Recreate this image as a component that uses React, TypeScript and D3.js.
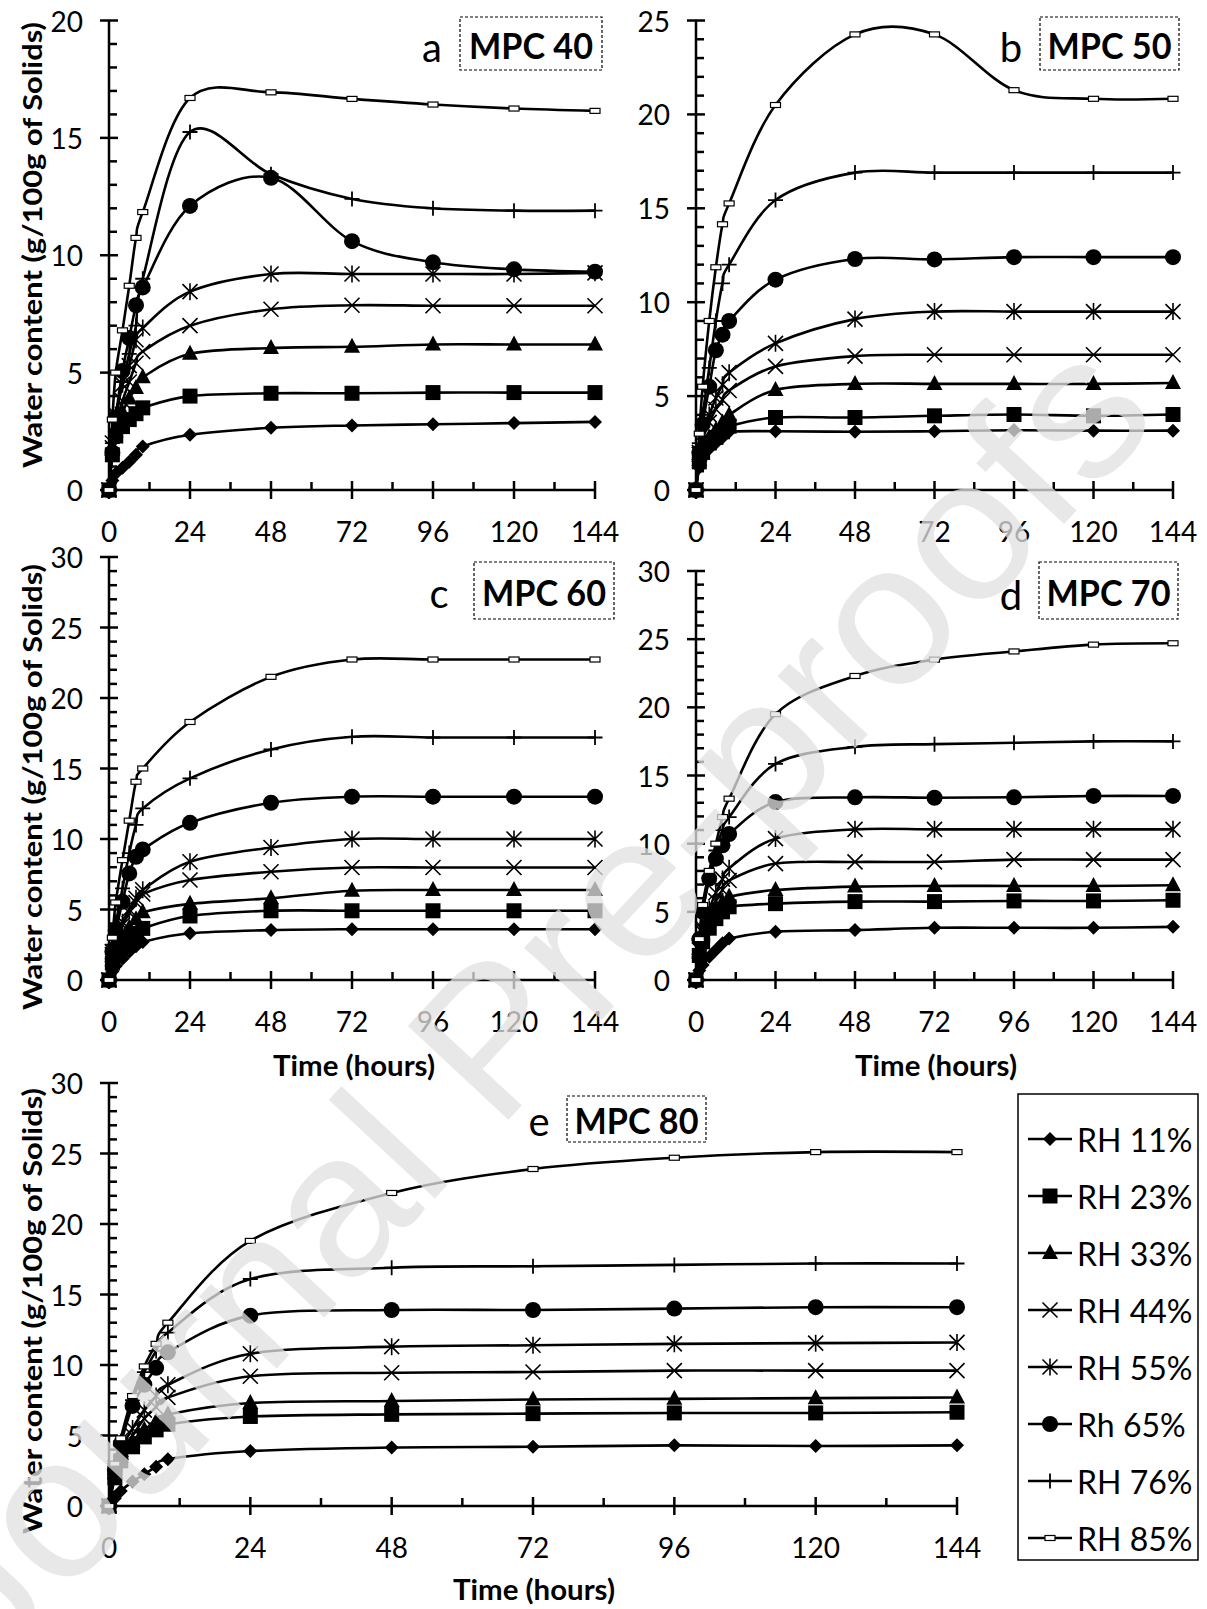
import React from 'react'
import * as d3 from 'd3'

// sampling times (hours)
const hours = [0, 1, 2, 4, 6, 8, 10, 24, 48, 72, 96, 120, 144]

const rhLabels = ['RH 11%', 'RH 23%', 'RH 33%', 'RH 44%', 'RH 55%', 'Rh 65%', 'RH 76%', 'RH 85%']
const markerKinds = ['diamond', 'square', 'triangle', 'x', 'star', 'circle', 'plus', 'dash']

const xTicks = [0, 24, 48, 72, 96, 120, 144]
const xMinorTicks = [12, 36, 60, 84, 108, 132]
const yTicks20 = [0, 5, 10, 15, 20]
const yTicks25 = [0, 5, 10, 15, 20, 25]
const yTicks30 = [0, 5, 10, 15, 20, 25, 30]

// water content (g/100g of solids), one row per RH, one column per time
const mpc40 = [
  [0, 0.4, 0.7, 0.95, 1.2, 1.5, 1.85, 2.35, 2.65, 2.75, 2.8, 2.85, 2.9],
  [0, 1.5, 2.3, 2.7, 3.0, 3.25, 3.5, 4.0, 4.12, 4.12, 4.15, 4.15, 4.15],
  [0, 1.7, 2.5, 3.3, 3.9, 4.35, 4.8, 5.8, 6.05, 6.1, 6.2, 6.2, 6.2],
  [0, 1.8, 2.8, 3.8, 4.6, 5.4, 5.9, 7.0, 7.7, 7.87, 7.85, 7.85, 7.85],
  [0, 2.0, 3.2, 4.5, 5.3, 6.4, 6.9, 8.45, 9.2, 9.2, 9.2, 9.2, 9.25],
  [0, 1.6, 3.1, 5.07, 6.47, 7.87, 8.63, 12.1, 13.3, 10.6, 9.7, 9.4, 9.3],
  [0, 2.0, 3.0, 4.6, 5.8, 7.0, 9.0, 15.25, 13.45, 12.4, 12.0, 11.9, 11.9],
  [0, 3.0, 5.0, 6.8, 8.7, 10.74, 11.84, 16.7, 16.94, 16.66, 16.42, 16.25, 16.15]
]

const mpc50 = [
  [0, 1.2, 1.7, 2.2, 2.5, 2.8, 3.1, 3.13, 3.1, 3.13, 3.18, 3.16, 3.16],
  [0, 1.5, 2.0, 2.5, 2.8, 3.1, 3.4, 3.86, 3.86, 3.95, 4.02, 3.95, 4.02],
  [0, 1.6, 2.2, 2.8, 3.2, 3.6, 4.0, 5.33, 5.65, 5.65, 5.65, 5.65, 5.7],
  [0, 1.9, 2.7, 3.6, 4.3, 4.8, 5.3, 6.58, 7.13, 7.2, 7.2, 7.2, 7.2],
  [0, 2.0, 3.0, 4.0, 4.9, 5.6, 6.25, 7.81, 9.1, 9.5, 9.5, 9.5, 9.5],
  [0, 2.0, 3.5, 5.5, 7.44, 8.27, 9.0, 11.2, 12.3, 12.28, 12.4, 12.4, 12.4],
  [0, 2.5, 4.0, 6.5, 9.0, 11.0, 12.0, 15.44, 16.9, 16.9, 16.9, 16.9, 16.9],
  [0, 3.0, 5.5, 9.0, 11.86, 14.15, 15.26, 20.5, 24.26, 24.26, 21.29, 20.83, 20.83]
]

const mpc60 = [
  [0, 0.6, 1.0, 1.5, 2.0, 2.4, 2.7, 3.31, 3.54, 3.6, 3.6, 3.6, 3.6],
  [0, 1.2, 1.8, 2.4, 2.9, 3.3, 3.66, 4.54, 4.91, 4.91, 4.91, 4.91, 4.91],
  [0, 1.4, 2.2, 3.0, 3.7, 4.3, 4.8, 5.4, 5.8, 6.33, 6.38, 6.38, 6.38],
  [0, 1.8, 2.8, 3.9, 4.8, 5.5, 6.1, 7.09, 7.68, 7.98, 7.98, 7.98, 7.98],
  [0, 2.0, 3.0, 4.1, 5.0, 5.8, 6.4, 8.39, 9.4, 10.0, 10.0, 10.0, 10.0],
  [0, 2.0, 3.5, 5.55, 7.56, 8.74, 9.26, 11.15, 12.57, 13.0, 13.0, 13.0, 13.0],
  [0, 2.5, 4.0, 6.5, 9.0, 11.0, 12.17, 14.3, 16.35, 17.25, 17.2, 17.2, 17.2],
  [0, 3.0, 5.5, 8.5, 11.3, 14.06, 15.0, 18.3, 21.5, 22.73, 22.73, 22.73, 22.73]
]

const mpc70 = [
  [0, 0.7, 1.1, 1.7, 2.2, 2.7, 3.05, 3.54, 3.66, 3.83, 3.83, 3.83, 3.9],
  [0, 1.8, 2.8, 3.8, 4.5, 5.0, 5.37, 5.6, 5.75, 5.75, 5.8, 5.8, 5.85],
  [0, 2.0, 3.2, 4.4, 5.2, 5.7, 6.1, 6.6, 6.85, 6.9, 6.9, 6.9, 6.95],
  [0, 2.2, 3.5, 4.8, 5.8, 6.6, 7.3, 8.54, 8.66, 8.66, 8.83, 8.83, 8.83],
  [0, 2.4, 3.8, 5.2, 6.4, 7.4, 8.2, 10.37, 11.05, 11.05, 11.05, 11.05, 11.05],
  [0, 3.0, 5.0, 7.44, 8.9, 9.88, 10.7, 13.05, 13.4, 13.37, 13.4, 13.5, 13.5],
  [0, 3.0, 5.0, 7.5, 9.5, 11.0, 11.95, 15.85, 17.1, 17.3, 17.4, 17.5, 17.5],
  [0, 3.0, 5.5, 8.0, 10.0, 11.95, 13.3, 19.5, 22.3, 23.5, 24.1, 24.6, 24.7]
]

const mpc80 = [
  [0, 0.55, 1.06, 1.73, 2.26, 2.79, 3.32, 3.9, 4.15, 4.2, 4.3, 4.25, 4.3],
  [0, 2.0, 3.2, 4.2, 4.9, 5.4, 5.8, 6.35, 6.5, 6.55, 6.6, 6.6, 6.65],
  [0, 2.3, 3.5, 4.6, 5.4, 6.0, 6.5, 7.3, 7.45, 7.55, 7.6, 7.65, 7.7],
  [0, 2.5, 3.8, 5.0, 6.2, 7.0, 7.7, 9.2, 9.45, 9.5, 9.6, 9.6, 9.6],
  [0, 2.7, 4.0, 5.5, 6.8, 7.8, 8.6, 10.8, 11.3, 11.4, 11.5, 11.55, 11.6],
  [0, 2.5, 4.4, 7.1, 8.6, 9.8, 10.9, 13.5, 13.9, 13.9, 14.0, 14.1, 14.1],
  [0, 2.8, 4.6, 7.5, 9.5, 11.0, 12.3, 16.1, 16.9, 17.0, 17.1, 17.2, 17.2],
  [0, 3.0, 4.8, 7.8, 9.9, 11.5, 13.0, 18.8, 22.2, 23.9, 24.7, 25.1, 25.1]
]

const FONT = 'Lato, "Open Sans", sans-serif'
const W = 1207
const H = 1609

// panel layout (pixels)
const panels = [
  { id: 'a', title: 'MPC 40', values: mpc40, yMax: 20, yTicks: yTicks20, left: 109, right: 595, top: 20.5, bottom: 490,
    letter: [432, 47], box: [460, 17, 142, 53], yTitle: 245, xTitle: null },
  { id: 'b', title: 'MPC 50', values: mpc50, yMax: 25, yTicks: yTicks25, left: 696, right: 1173, top: 20.5, bottom: 490,
    letter: [1011, 47], box: [1040, 17, 139, 53], yTitle: null, xTitle: null },
  { id: 'c', title: 'MPC 60', values: mpc60, yMax: 30, yTicks: yTicks30, left: 109, right: 595, top: 557, bottom: 980,
    letter: [439, 593], box: [474, 562, 140, 57], yTitle: 787, xTitle: [354, 1065] },
  { id: 'd', title: 'MPC 70', values: mpc70, yMax: 30, yTicks: yTicks30, left: 696, right: 1173, top: 571, bottom: 980,
    letter: [1011, 595], box: [1039, 562, 139, 57], yTitle: null, xTitle: [936, 1065] },
  { id: 'e', title: 'MPC 80', values: mpc80, yMax: 30, yTicks: yTicks30, left: 109, right: 957, top: 1083, bottom: 1506,
    letter: [539, 1121], box: [567, 1096, 139, 46], yTitle: 1311, xTitle: [534, 1589] }
]

function Marker({ kind, cx, cy }: { kind: string; cx: number; cy: number }) {
  const k = '#000'
  switch (kind) {
    case 'diamond': {
      const r = 7
      return <path d={`M${cx},${cy - r}L${cx + r},${cy}L${cx},${cy + r}L${cx - r},${cy}Z`} fill={k} />
    }
    case 'square': {
      const s = 15
      return <rect x={cx - s / 2} y={cy - s / 2} width={s} height={s} fill={k} />
    }
    case 'triangle': {
      const w = 16, h = 15
      return <path d={`M${cx},${cy - h * 0.6}L${cx + w / 2},${cy + h * 0.4}L${cx - w / 2},${cy + h * 0.4}Z`} fill={k} />
    }
    case 'x': {
      const r = 7.5
      return <path d={`M${cx - r},${cy - r}L${cx + r},${cy + r}M${cx - r},${cy + r}L${cx + r},${cy - r}`} stroke={k} strokeWidth={1.6} />
    }
    case 'star': {
      const r = 7.5
      return <path d={`M${cx - r},${cy - r}L${cx + r},${cy + r}M${cx - r},${cy + r}L${cx + r},${cy - r}M${cx},${cy - r - 1}V${cy + r + 1}`} stroke={k} strokeWidth={1.6} />
    }
    case 'circle':
      return <circle cx={cx} cy={cy} r={8} fill={k} />
    case 'plus': {
      const r = 7.5
      return <path d={`M${cx},${cy - r}V${cy + r}M${cx - r},${cy}H${cx + r}`} stroke={k} strokeWidth={1.8} />
    }
    default:
      return <rect x={cx - 5} y={cy - 2.5} width={10} height={5} fill="#fff" stroke={k} strokeWidth={1.2} />
  }
}

function Panel({ p }: { p: any }) {
  const x = d3.scaleLinear().domain([0, 144]).range([p.left, p.right])
  const y = d3.scaleLinear().domain([0, p.yMax]).range([p.bottom, p.top])
  const line = d3.line<number>()
    .x((_, i) => x(hours[i]))
    .y(d => y(d))
    .curve(d3.curveCardinal.tension(0))

  const yMinor = d3.range(0, p.yMax + 1).filter(v => v % 5 !== 0)

  return (
    <g>
      {/* axes */}
      <line x1={p.left} x2={p.right} y1={p.bottom} y2={p.bottom} stroke="#000" strokeWidth={2.5} />
      <line x1={p.left} x2={p.left} y1={p.bottom} y2={p.top} stroke="#000" strokeWidth={2.5} />
      {xTicks.map(t => (
        <line key={'xt' + t} x1={x(t)} x2={x(t)} y1={p.bottom - 9} y2={p.bottom + 9} stroke="#000" strokeWidth={2.5} />
      ))}
      {xMinorTicks.map(t => (
        <line key={'xm' + t} x1={x(t)} x2={x(t)} y1={p.bottom - 8} y2={p.bottom} stroke="#000" strokeWidth={2.5} />
      ))}
      {p.yTicks.map((t: number) => (
        <line key={'yt' + t} x1={p.left - 9} x2={p.left + 9} y1={y(t)} y2={y(t)} stroke="#000" strokeWidth={2.5} />
      ))}
      {yMinor.map((t: number) => (
        <line key={'ym' + t} x1={p.left} x2={p.left + 8} y1={y(t)} y2={y(t)} stroke="#000" strokeWidth={2.5} />
      ))}
      {xTicks.map(t => (
        <text key={'xl' + t} x={x(t)} y={p.bottom + 41} textAnchor="middle" dominantBaseline="central"
          fontFamily={FONT} fontSize={28}>{t}</text>
      ))}
      {p.yTicks.map((t: number) => (
        <text key={'yl' + t} x={p.left - 26} y={y(t)} textAnchor="end" dominantBaseline="central"
          fontFamily={FONT} fontSize={28}>{t}</text>
      ))}

      {/* series */}
      {p.values.map((row: number[], s: number) => (
        <g key={'s' + s}>
          <path d={line(row) || ''} fill="none" stroke="#000" strokeWidth={2.6} />
          {row.map((v, i) => (
            <Marker key={i} kind={markerKinds[s]} cx={x(hours[i])} cy={y(v)} />
          ))}
        </g>
      ))}

      {/* labels */}
      <text x={p.letter[0]} y={p.letter[1]} textAnchor="middle" dominantBaseline="central"
        fontFamily={FONT} fontSize={40}>{p.id}</text>
      <rect x={p.box[0]} y={p.box[1]} width={p.box[2]} height={p.box[3]} fill="#fff" stroke="#000"
        strokeWidth={1.2} strokeDasharray="3 2" />
      <text x={p.box[0] + p.box[2] / 2} y={p.box[1] + p.box[3] / 2 + 1} textAnchor="middle" dominantBaseline="central"
        fontFamily={FONT} fontWeight={700} fontSize={36} textLength={124} lengthAdjust="spacingAndGlyphs">{p.title}</text>
      {p.yTitle !== null && (
        <text transform={`translate(31,${p.yTitle}) rotate(-90)`} textAnchor="middle" dominantBaseline="central"
          fontFamily={FONT} fontWeight={700} fontSize={27} textLength={446} lengthAdjust="spacingAndGlyphs">
          Water content (g/100g of Solids)
        </text>
      )}
      {p.xTitle !== null && (
        <text x={p.xTitle[0]} y={p.xTitle[1]} textAnchor="middle" dominantBaseline="central"
          fontFamily={FONT} fontWeight={700} fontSize={28} textLength={162} lengthAdjust="spacingAndGlyphs">
          Time (hours)
        </text>
      )}
    </g>
  )
}

function Legend() {
  const top = 1094, left = 1018, width = 180, height = 466
  const first = 1139, step = 57
  return (
    <g>
      <rect x={left} y={top} width={width} height={height} fill="#fff" stroke="#000" strokeWidth={1.5} />
      {rhLabels.map((label, i) => {
        const cy = first + i * step
        return (
          <g key={label}>
            <line x1={left + 10} x2={left + 54} y1={cy} y2={cy} stroke="#000" strokeWidth={2.6} />
            <Marker kind={markerKinds[i]} cx={left + 32} cy={cy} />
            <text x={left + 59} y={cy} dominantBaseline="central" fontFamily={FONT} fontSize={32}>{label}</text>
          </g>
        )
      })}
    </g>
  )
}

export default function App() {
  return (
    <div style={{ position: 'absolute', left: 0, top: 0 }}>
      <svg width={W} height={H} viewBox={`0 0 ${W} ${H}`} style={{ display: 'block', background: '#fff' }}>
        <rect width={W} height={H} fill="#fff" />
        {panels.map(p => <Panel key={p.id} p={p} />)}
        <Legend />
        <text transform="translate(525,1000) rotate(-47)" textAnchor="middle" dominantBaseline="central"
          fontFamily='"Liberation Sans", Arial, sans-serif' fontSize={200} fill="rgb(225,225,225)" fillOpacity={0.76}
          textLength={1720} lengthAdjust="spacingAndGlyphs">Journal Pre-proofs</text>
      </svg>
    </div>
  )
}
